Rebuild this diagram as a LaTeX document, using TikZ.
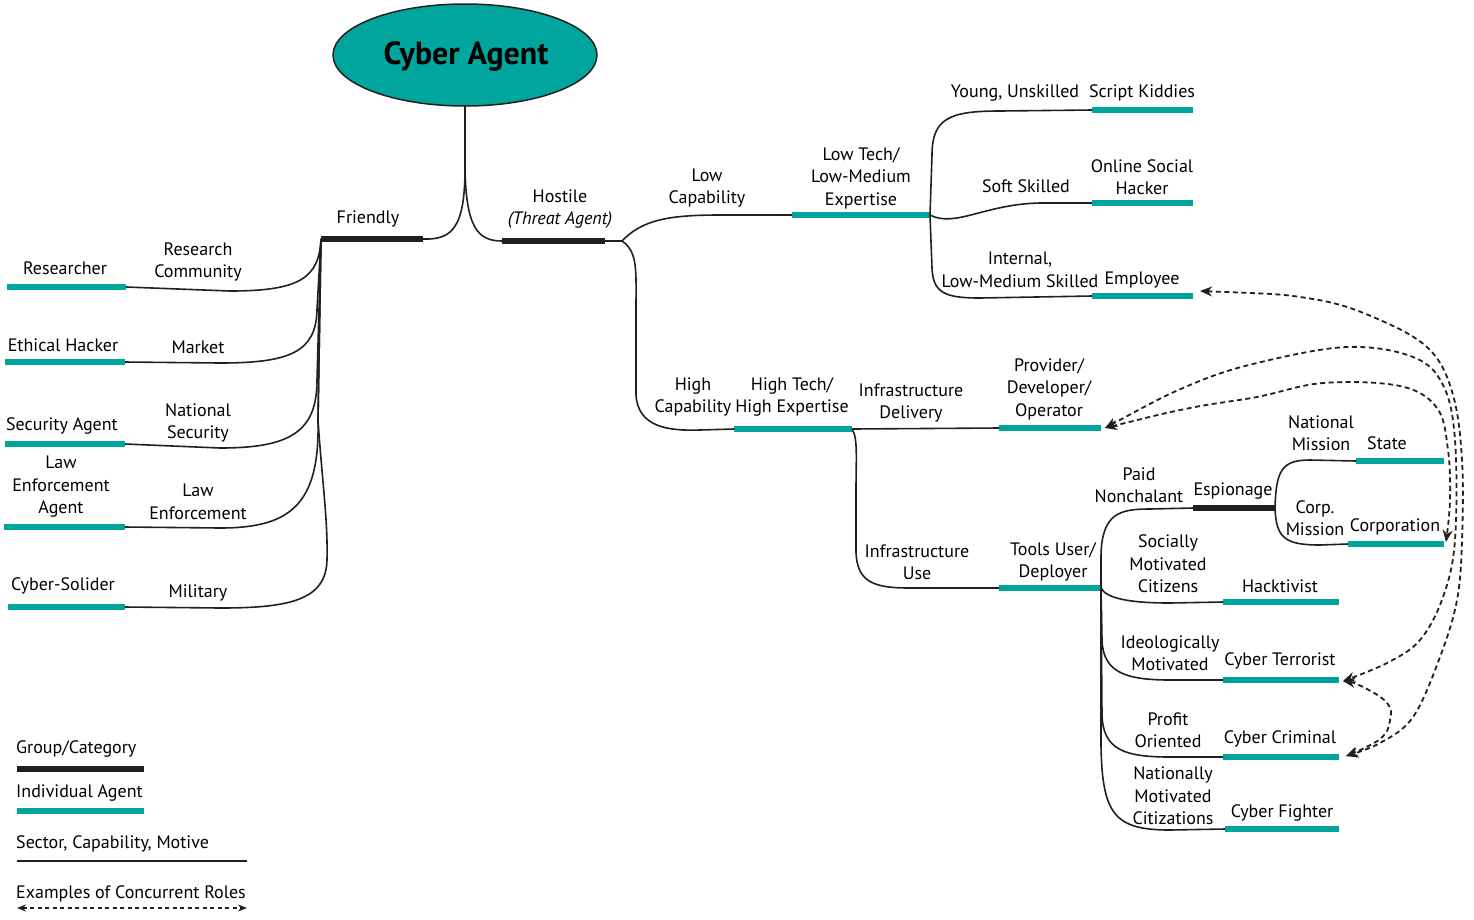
\documentclass[tikz,border=0pt]{standalone}
\usepackage{fontspec}
\setmainfont{PT Sans}
\usetikzlibrary{shapes.geometric,arrows.meta,calc}
\definecolor{agentteal}{RGB}{0,166,157}
\definecolor{groupblack}{RGB}{35,31,32}
\newcommand\mybar[5]{\node[#1, minimum width={(#4)-(#3)}] (#2) at ({((#3)+(#4))/2},#5) {};}
\begin{document}
\begin{tikzpicture}[x=1pt,y=-1pt,
  lbl/.style={font=\fontsize{18}{22.5}\selectfont, align=center, inner sep=0pt},
  tealbar/.style={rectangle, fill=agentteal, draw=none, minimum height=6pt, inner sep=0pt, outer sep=0pt},
  groupbar/.style={rectangle, fill=groupblack, draw=none, minimum height=6.5pt, inner sep=0pt, outer sep=0pt},
  link/.style={draw=groupblack, line width=1.6pt},
  concur/.style={draw=groupblack, line width=1.8pt, dash pattern=on 5pt off 3.5pt,
     {Stealth[length=12pt,width=10pt]}-{Stealth[length=12pt,width=10pt]}},
  concursmall/.style={draw=groupblack, line width=1.1pt, dash pattern=on 4pt off 3.5pt,
     {Stealth[length=9pt,width=7pt]}-{Stealth[length=9pt,width=7pt]}},
]
\useasboundingbox (0,0) rectangle (1474,919);

% ---------- root ----------
\node[ellipse, fill=agentteal, draw=groupblack, line width=1.5pt, minimum width=264pt, minimum height=102pt, inner sep=0pt]
  (root) at (465,55) {};
\node[font=\fontsize{32}{36}\selectfont\bfseries, inner sep=0pt] (roottxt) at (466,56) {Cyber Agent};

% ---------- group bars ----------
\mybar{groupbar}{friendly}{321}{423}{239}
\node[lbl] (l-friendly) at (368,219) {Friendly};
\mybar{groupbar}{hostile}{502}{605}{241}
\node[lbl] (l-hostile) at (560,209) {Hostile\\\textit{(Threat Agent)}};

\coordinate (split) at (465,168);
\draw[link] (root.south) -- (split);
\draw[link] (split) .. controls (465,228) and (452,240) .. (friendly.east);
\draw[link] (split) .. controls (466,228) and (478,241) .. (hostile.west);

% ---------- friendly side ----------
\mybar{tealbar}{researcher}{7}{126}{287}
\node[lbl] (l-researcher) at (65,268) {Researcher};
\node[lbl] (l-research) at (198,262) {Research\\Community};
\mybar{tealbar}{ethical}{5}{125}{362}
\node[lbl] (l-ethical) at (63,345) {Ethical Hacker};
\node[lbl] (l-market) at (198,347) {Market};
\mybar{tealbar}{security}{5}{125}{444}
\node[lbl] (l-security) at (62,426) {Security Agent};
\node[lbl] (l-national) at (198,423) {National\\Security};
\mybar{tealbar}{lawagent}{4}{125}{527}
\node[lbl] (l-lawagent) at (61,487) {Law\\Enforcement\\Agent};
\node[lbl] (l-law) at (198,502) {Law\\Enforcement};
\mybar{tealbar}{soldier}{8}{125}{607}
\node[lbl] (l-soldier) at (63,586) {Cyber-Solider};
\node[lbl] (l-military) at (198,593) {Military};

\draw[link] (friendly.west) .. controls (319,278) and (300,291) .. (230,291) -- (researcher.east);
\draw[link] (friendly.west) -- (317,310) .. controls (316,352) and (290,363) .. (220,363) -- (ethical.east);
\draw[link] (friendly.west) -- (317,380) .. controls (317,432) and (290,448) .. (220,448) -- (security.east);
\draw[link] (friendly.west) -- (318,420) .. controls (320,505) and (290,528) .. (220,528) -- (lawagent.east);
\draw[link] (friendly.west) -- (318,420) .. controls (322,480) and (328,520) .. (327,560)
   .. controls (326,600) and (290,608) .. (220,608) -- (soldier.east);

% ---------- hostile side ----------
\coordinate (hsplit) at (622,241);
\draw[link] (hostile.east) -- (hsplit);

\mybar{tealbar}{lowtech}{792}{930}{215}
\node[lbl] (l-lowtech) at (861,178) {Low Tech/\\Low-Medium\\Expertise};
\node[lbl] (l-lowcap) at (707,188) {Low\\Capability};
\draw[link] (hsplit) .. controls (642,220) and (668,215) .. (720,215) -- (lowtech.west);

\mybar{tealbar}{hightech}{734}{852}{429}
\node[lbl] (l-hightech) at (792,397) {High Tech/\\High Expertise};
\node[lbl] (l-highcap) at (693,397) {High\\Capability};
\draw[link] (hsplit) .. controls (638,252) and (636,270) .. (636,310) -- (636,395)
   .. controls (638,428) and (670,431) .. (700,430) -- (hightech.west);

% low tech branches
\mybar{tealbar}{script}{1092}{1193}{110}
\node[lbl] (l-script) at (1142,93) {Script Kiddies};
\node[lbl] (l-young) at (1015,93) {Young, Unskilled};
\draw[link] (lowtech.east) -- (932,155) .. controls (932,118) and (950,111) .. (1000,111) -- (script.west);

\mybar{tealbar}{social}{1092}{1193}{203}
\node[lbl] (l-social) at (1142,177) {Online Social\\Hacker};
\node[lbl] (l-soft) at (1026,186) {Soft Skilled};
\draw[link] (lowtech.east) .. controls (955,228) and (985,204) .. (1040,203) -- (social.west);

\mybar{tealbar}{employee}{1092}{1193}{296}
\node[lbl] (l-employee) at (1142,280) {Employee};
\node[lbl] (l-internal) at (1020,270) {Internal,\\Low-Medium Skilled};
\draw[link] (lowtech.east) -- (932,268) .. controls (933,293) and (945,298) .. (980,298) -- (employee.west);

% high tech branches
\mybar{tealbar}{provider}{999}{1101}{428}
\node[lbl] (l-provider) at (1049,389) {Provider/\\Developer/\\Operator};
\node[lbl] (l-delivery) at (911,403) {Infrastructure\\Delivery};
\draw[link] (hightech.east) -- (provider.west);

\mybar{tealbar}{tools}{999}{1101}{588}
\node[lbl] (l-tools) at (1053,562) {Tools User/\\Deployer};
\node[lbl] (l-use) at (917,562) {Infrastructure\\Use};
\draw[link] (hightech.east) .. controls (858,438) and (856,458) .. (856,490) -- (856,552)
   .. controls (857,583) and (875,588) .. (910,588) -- (tools.west);

% tools branches
\mybar{groupbar}{espionage}{1193}{1275}{508}
\node[lbl] (l-espionage) at (1233,491) {Espionage};
\node[lbl] (l-paid) at (1139,485) {Paid\\Nonchalant};
\draw[link] (tools.east) -- (1101,555) .. controls (1102,513) and (1120,509) .. (1150,509) -- (espionage.west);

\mybar{tealbar}{hacktivist}{1223}{1339}{602}
\node[lbl] (l-hacktivist) at (1280,586) {Hacktivist};
\node[lbl] (l-socially) at (1168,564) {Socially\\Motivated\\Citizens};
\draw[link] (tools.east) .. controls (1106,598) and (1128,603) .. (1170,603) -- (hacktivist.west);

\mybar{tealbar}{terrorist}{1223}{1339}{680}
\node[lbl] (l-terrorist) at (1280,661) {Cyber Terrorist};
\node[lbl] (l-ideo) at (1170,653) {Ideologically\\Motivated};
\draw[link] (tools.east) -- (1102,640) .. controls (1103,672) and (1125,680) .. (1170,680) -- (terrorist.west);

\mybar{tealbar}{criminal}{1223}{1339}{757}
\node[lbl] (l-criminal) at (1280,739) {Cyber Criminal};
\node[lbl] (l-profit) at (1168,730) {Profit\\Oriented};
\draw[link] (tools.east) -- (1102,715) .. controls (1103,750) and (1125,757) .. (1170,757) -- (criminal.west);

\mybar{tealbar}{fighter}{1225}{1339}{829}
\node[lbl] (l-fighter) at (1282,813) {Cyber Fighter};
\node[lbl] (l-nationally) at (1173,796) {Nationally\\Motivated\\Citizations};
\draw[link] (tools.east) -- (1101,745) .. controls (1102,815) and (1115,830) .. (1170,830) -- (fighter.west);

% espionage branches
\mybar{tealbar}{state}{1356}{1444}{461}
\node[lbl] (l-state) at (1387,443) {State};
\node[lbl] (l-natmission) at (1321,433) {National\\Mission};
\draw[link] (espionage.east) .. controls (1276,470) and (1282,460) .. (1310,460) -- (state.west);

\mybar{tealbar}{corporation}{1348}{1444}{544}
\node[lbl] (l-corporation) at (1395,527) {Corporation};
\node[lbl] (l-corpmission) at (1315,518) {Corp.\\Mission};
\draw[link] (espionage.east) .. controls (1276,538) and (1285,545) .. (1320,545) -- (corporation.west);

% ---------- concurrent roles ----------
\coordinate (c-emp) at ($(employee.east)+(7,-5)$);
\coordinate (c-prov) at ($(provider.east)+(4,0)$);
\coordinate (c-corp) at ($(corporation.east)+(2,-2)$);
\coordinate (c-terr) at ($(terrorist.east)+(4,1)$);
\coordinate (c-crim) at ($(criminal.east)+(7,-1)$);

\draw[concur] plot[smooth, tension=0.6] coordinates {(c-emp) (1313,299) (1380,320) (1430,350) (1453,395) (1462,460) (1462,540) (1457,600) (1440,657) (1413,717) (1380,743) (c-crim)};
\draw[concur] plot[smooth, tension=0.6] coordinates {(c-prov) (1190,408) (1257,397) (1323,383) (1400,386) (1437,408) (1448,450) (1450,500) (c-corp)};
\draw[concur] plot[smooth, tension=0.6] coordinates {(c-prov) (1190,385) (1257,363) (1347,347) (1413,357) (1443,385) (1455,440) (1455,540) (1443,597) (1420,640) (1387,663) (c-terr)};
\draw[concur] plot[smooth, tension=0.7] coordinates {(c-terr) (1363,687) (1387,703) (1390,720) (1380,739) (c-crim)};

% ---------- legend ----------
\node[lbl, anchor=west] (lg-group) at (16,749) {Group/Category};
\mybar{groupbar}{lg-gbar}{17}{144}{769}
\node[lbl, anchor=west] (lg-ind) at (16,793) {Individual Agent};
\mybar{tealbar}{lg-tbar}{17}{144}{811}
\node[lbl, anchor=west] (lg-sector) at (16,844) {Sector, Capability, Motive};
\coordinate (lg-s1) at (17,861);
\coordinate (lg-s2) at (247,861);
\draw[draw=groupblack, line width=1.3pt] (lg-s1) -- (lg-s2);
\node[lbl, anchor=west] (lg-ex) at (16,894) {Examples of Concurrent Roles};
\coordinate (lg-e1) at (17,908);
\coordinate (lg-e2) at (247,908);
\draw[concursmall] (lg-e1) -- (lg-e2);
\end{tikzpicture}
\end{document}
